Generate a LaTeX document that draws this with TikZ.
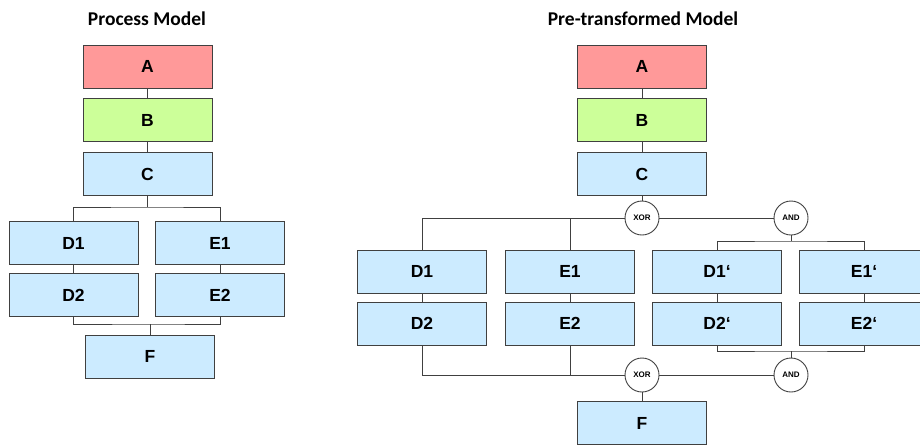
\documentclass[tikz,border=0pt]{standalone}
\usepackage{fontspec}
\setmainfont{Liberation Sans}
\newfontfamily\titlefont{Carlito}
\usetikzlibrary{positioning}
\definecolor{taskred}{RGB}{255,153,153}
\definecolor{taskgreen}{RGB}{204,255,153}
\definecolor{taskblue}{RGB}{204,235,255}
\definecolor{edgegray}{RGB}{64,64,64}

\begin{document}
\begin{tikzpicture}[x=1pt,y=-1pt,
    task/.style={draw=edgegray, line width=0.9pt, fill=taskblue, inner sep=0pt,
      minimum width=129pt, minimum height=43pt,
      font=\fontsize{17.5}{17.5}\selectfont\bfseries},
    gate/.style={circle, draw=edgegray, line width=0.9pt, fill=white, inner sep=0pt,
      minimum size=34pt, font=\fontsize{8}{8}\selectfont\bfseries},
    heading/.style={font=\titlefont\fontsize{19.5}{19.5}\selectfont\bfseries},
    link/.style={draw=edgegray, line width=0.9pt}]
  \useasboundingbox (0,0) rectangle (920,445);
  \clip (0,0) rectangle (920,445);

  % process model
  \node[heading] (t1) at (147,19) {Process Model};
  \node[task, fill=taskred] (a1) at (147.5,66.5) {A};
  \node[task, fill=taskgreen] (b1) at (147.5,120.3) {B};
  \node[task] (c1) at (147.5,174) {C};
  \node[task] (d11) at (73.5,243.3) {D1};
  \node[task] (e11) at (220,243.3) {E1};
  \node[task] (d21) at (73.5,295.3) {D2};
  \node[task] (e21) at (220,295.3) {E2};
  \node[task] (f1) at (150,356.5) {F};
  \coordinate (split1) at (147.5,207);
  \coordinate (join1) at (150,324);
  \draw[link] (a1) -- (b1) -- (c1) -- (split1);
  \draw[link] (d11.north) |- (split1) -| (e11.north);
  \draw[link] (d11) -- (d21) (e11) -- (e21);
  \draw[link] (d21.south) |- (join1) -| (e21.south);
  \draw[link] (join1) -- (f1);

  % pre-transformed model
  \node[heading] (t2) at (643,19) {Pre-transformed Model};
  \node[task, fill=taskred] (a2) at (642,66.5) {A};
  \node[task, fill=taskgreen] (b2) at (642,120.3) {B};
  \node[task] (c2) at (642,174) {C};
  \node[gate] (xor1) at (642,218) {XOR};
  \node[gate] (and1) at (791,218) {AND};
  \node[task] (d12) at (422,271.7) {D1};
  \node[task] (e12) at (570,271.7) {E1};
  \node[task] (d13) at (717,271.7) {D1‘};
  \node[task] (e13) at (864,271.7) {E1‘};
  \node[task] (d22) at (422,323.7) {D2};
  \node[task] (e22) at (570,323.7) {E2};
  \node[task] (d23) at (717,323.7) {D2‘};
  \node[task] (e23) at (864,323.7) {E2‘};
  \node[gate] (xor2) at (642,375) {XOR};
  \node[gate] (and2) at (791,375) {AND};
  \node[task] (f2) at (642,423) {F};
  \coordinate (split2) at (791,241);
  \coordinate (join2) at (791,351);
  \draw[link] (a2) -- (b2) -- (c2) -- (xor1);
  \draw[link] (xor1) -- (and1);
  \draw[link] (xor1.west) -| (d12.north);
  \draw[link] (xor1.west) -| (e12.north);
  \draw[link] (and1) -- (split2);
  \draw[link] (d13.north) |- (split2) -| (e13.north);
  \draw[link] (d12) -- (d22) (e12) -- (e22) (d13) -- (d23) (e13) -- (e23);
  \draw[link] (d22.south) |- (xor2.west);
  \draw[link] (e22.south) |- (xor2.west);
  \draw[link] (d23.south) |- (join2) -| (e23.south);
  \draw[link] (join2) -- (and2);
  \draw[link] (xor2) -- (and2);
  \draw[link] (xor2) -- (f2);
\end{tikzpicture}
\end{document}
